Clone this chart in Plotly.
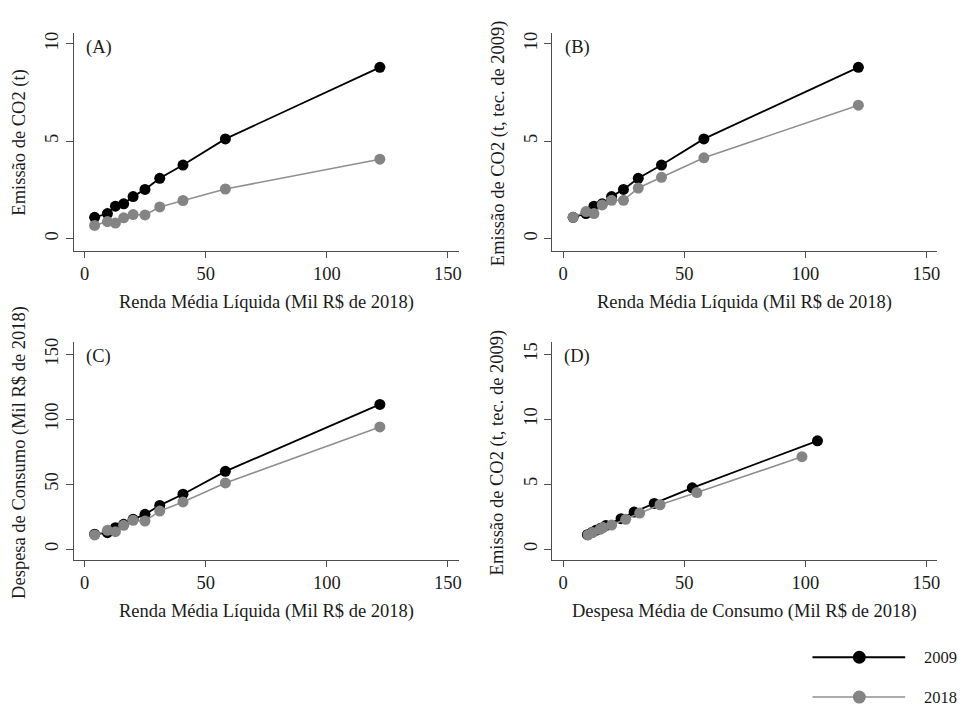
import plotly.graph_objects as go

# ---------------- data ----------------
income = [4.1, 9.4, 12.7, 16.1, 20.0, 24.9, 31.0, 40.6, 58.1, 121.9]

emis_2009 = [1.10, 1.29, 1.67, 1.79, 2.16, 2.53, 3.10, 3.78, 5.12, 8.79]
emis_2018 = [0.68, 0.88, 0.80, 1.07, 1.24, 1.22, 1.63, 1.96, 2.55, 4.08]
emis_2018_tec2009 = [1.10, 1.39, 1.29, 1.73, 1.97, 1.97, 2.60, 3.15, 4.15, 6.85]

cons_2009 = [11.5, 12.7, 16.5, 19.1, 23.0, 26.8, 33.7, 42.3, 59.9, 111.4]
cons_2018 = [11.0, 14.5, 13.5, 18.4, 22.2, 21.7, 29.3, 36.4, 51.0, 94.1]

d_cons_2009 = [10.0, 11.8, 13.5, 15.5, 17.6, 23.9, 29.3, 37.6, 53.3, 105.0]
d_emis_2009 = [1.12, 1.28, 1.45, 1.62, 1.82, 2.35, 2.86, 3.52, 4.72, 8.34]
d_cons_2018 = [10.3, 12.1, 15.2, 16.5, 20.0, 25.8, 31.6, 40.0, 55.2, 98.6]
d_emis_2018 = [1.10, 1.28, 1.53, 1.66, 1.86, 2.30, 2.78, 3.42, 4.36, 7.12]

years = ["2009", "2018"]
panel_labels = ["(A)", "(B)", "(C)", "(D)"]
x_titles = ["Renda Média Líquida (Mil R$ de 2018)",
            "Renda Média Líquida (Mil R$ de 2018)",
            "Renda Média Líquida (Mil R$ de 2018)",
            "Despesa Média de Consumo (Mil R$ de 2018)"]
y_titles = ["Emissão de CO2 (t)",
            "Emissão de CO2 (t, tec. de 2009)",
            "Despesa de Consumo (Mil R$ de 2018)",
            "Emissão de CO2 (t, tec. de 2009)"]
x_ticks = [0, 50, 100, 150]
y_ticks = [[0, 5, 10], [0, 5, 10], [0, 50, 100, 150], [0, 5, 10, 15]]

# ---------------- styling ----------------
W, H = 966, 708
FONT = "Liberation Serif"
FS = 18.5
TXT = "#1a1a1a"
AX = "#4d4d4d"
BLACK = "#000000"
GRAY = "#848484"
GRAYLINE = "#8f8f8f"


def fx(px):
    return px / W


def fy(py):
    return 1 - py / H


panels = [
    dict(x0=74, x1=460, y0=29, y1=248, yr=[-0.61, 10.56]),
    dict(x0=554, x1=940, y0=29, y1=248, yr=[-0.61, 10.56]),
    dict(x0=74, x1=460, y0=340, y1=559, yr=[-8.2, 159.4]),
    dict(x0=554, x1=940, y0=340, y1=559, yr=[-0.82, 15.94]),
]

series = [
    (income, emis_2009, income, emis_2018),
    (income, emis_2009, income, emis_2018_tec2009),
    (income, cons_2009, income, cons_2018),
    (d_cons_2009, d_emis_2009, d_cons_2018, d_emis_2018),
]

fig = go.Figure()
layout = dict(
    width=W, height=H, margin=dict(l=0, r=0, t=0, b=0),
    paper_bgcolor="white", plot_bgcolor="white",
    font=dict(family=FONT, size=FS, color=TXT),
    showlegend=False,
)
annotations = []

for i, (p, s) in enumerate(zip(panels, series)):
    n = "" if i == 0 else str(i + 1)
    xa, ya = "x" + n, "y" + n
    x9, y9, x8, y8 = s
    fig.add_trace(go.Scatter(
        x=x9, y=y9, xaxis=xa, yaxis=ya, mode="lines+markers", name=years[0],
        line=dict(color=BLACK, width=1.8),
        marker=dict(color=BLACK, size=11), cliponaxis=False))
    fig.add_trace(go.Scatter(
        x=x8, y=y8, xaxis=xa, yaxis=ya, mode="lines+markers", name=years[1],
        line=dict(color=GRAYLINE, width=1.6),
        marker=dict(color=GRAY, size=11), cliponaxis=False))
    layout["xaxis" + n] = dict(
        domain=[fx(p["x0"]), fx(p["x1"])], anchor=ya, range=[-4.5, 154.4],
        showgrid=False, zeroline=False, showline=True, linecolor=AX, linewidth=1,
        ticks="outside", ticklen=6, tickcolor=AX, tickwidth=1,
        tickvals=x_ticks, ticktext=[str(v) for v in x_ticks],
        tickfont=dict(family=FONT, size=FS, color=TXT), ticklabelstandoff=0,
    )
    layout["yaxis" + n] = dict(
        domain=[fy(p["y1"]), fy(p["y0"])], anchor=xa, range=p["yr"],
        showgrid=False, zeroline=False, showline=True, linecolor=AX, linewidth=1,
        ticks="outside", ticklen=7, tickcolor=AX, tickwidth=1,
        tickvals=y_ticks[i], ticktext=[str(v) for v in y_ticks[i]],
        tickangle=-90, tickfont=dict(family=FONT, size=FS, color=TXT),
        ticklabelstandoff=0,
    )
    cx = (p["x0"] + p["x1"]) / 2
    annotations.append(dict(
        text=x_titles[i], x=fx(cx), y=fy(p["y1"] + 52), xref="paper", yref="paper",
        showarrow=False, xanchor="center", yanchor="middle",
        font=dict(family=FONT, size=FS, color=TXT)))
    cy = (p["y0"] + p["y1"]) / 2
    annotations.append(dict(
        text=y_titles[i], x=fx(p["x0"] - 54), y=fy(cy + 1), xref="paper", yref="paper",
        showarrow=False, xanchor="center", yanchor="middle", textangle=-90,
        font=dict(family=FONT, size=FS, color=TXT)))
    annotations.append(dict(
        text=panel_labels[i], x=fx(p["x0"] + 25), y=fy(p["y0"] + 15), xref="paper",
        yref="paper", showarrow=False, xanchor="center", yanchor="middle",
        font=dict(family=FONT, size=FS, color=TXT)))

# ---------------- custom legend ----------------
shapes = []
leg = [(years[0], BLACK, BLACK, 2.0, 657), (years[1], GRAYLINE, GRAY, 1.6, 697)]
for name, lc, mc, lw, yy in leg:
    shapes.append(dict(type="line", xref="paper", yref="paper",
                       x0=fx(815), x1=fx(908), y0=fy(yy), y1=fy(yy),
                       line=dict(color=lc, width=lw)))
    r = 6.5
    shapes.append(dict(type="circle", xref="paper", yref="paper",
                       x0=fx(862 - r), x1=fx(862 + r), y0=fy(yy + r), y1=fy(yy - r),
                       fillcolor=mc, line=dict(color=mc, width=0)))
    annotations.append(dict(text=name, x=fx(925), y=fy(yy), xref="paper", yref="paper",
                            showarrow=False, xanchor="left", yanchor="middle",
                            font=dict(family=FONT, size=16.5, color=TXT)))

layout["annotations"] = annotations
layout["shapes"] = shapes
fig.update_layout(**layout)
fig.write_html(
    "out.html",
    config={"displayModeBar": False},
    post_script="document.body.style.margin='0';document.body.style.padding='0';"
                "document.body.style.overflow='hidden';",
)
